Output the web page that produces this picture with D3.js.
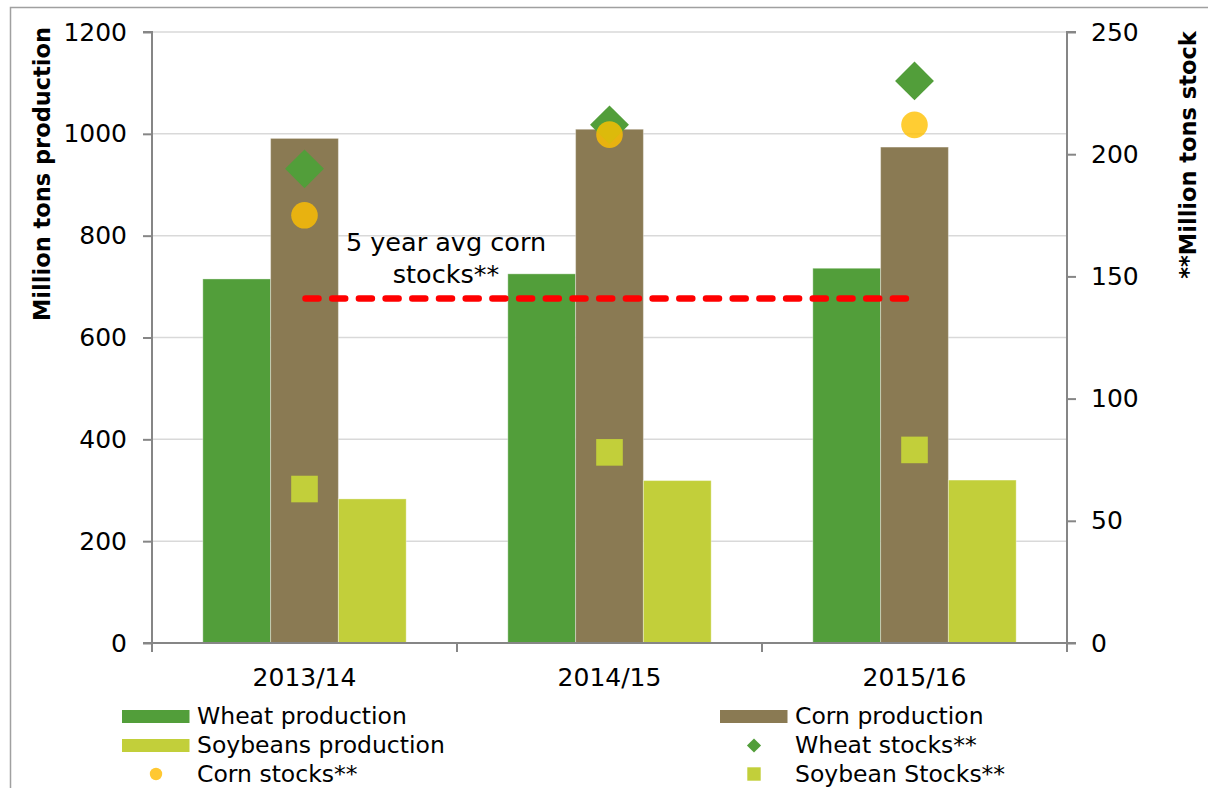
<!DOCTYPE html>
<html>
<head>
<meta charset="utf-8">
<script src="https://cdn.jsdelivr.net/npm/d3@7"></script>
<style>
  html, body { margin: 0; padding: 0; background: #fff; }
  svg { display: block; font-family: "DejaVu Sans", sans-serif; }
</style>
</head>
<body>
<svg id="chart" width="1208" height="788"></svg>
<script>
// ---- data ----
const categories = ["2013/14", "2014/15", "2015/16"];
const wheatProduction = [715, 725, 736];
const cornProduction = [991, 1009, 974];
const soybeansProduction = [283, 319, 320];
const wheatStocks = [194, 212, 230];
const cornStocks = [175, 208, 212];
const soybeanStocks = [63, 78, 79];
const avgCornStocks = 141;
const leftTicks = [0, 200, 400, 600, 800, 1000, 1200];
const rightTicks = [0, 50, 100, 150, 200, 250];

const colors = {
  wheat: "#529E3A",
  corn: "#8A7A53",
  soy: "#C2CF3A",
  cornStock: "#FFC000",
  avg: "#FF0000"
};

const svg = d3.select("#chart");
const m = { left: 152, right: 1067, top: 32, bottom: 643 };

// outer frame
svg.append("rect").attr("x", 10.5).attr("y", 7.5).attr("width", 1220).attr("height", 800)
  .attr("fill", "none").attr("stroke", "#A0A0A0").attr("stroke-width", 1.5);

const x = d3.scaleBand().domain(categories).range([m.left, m.right]).paddingInner(0).paddingOuter(0);
const series = ["wheat", "corn", "soy"];
const xs = d3.scaleBand().domain(series).range([0, x.bandwidth()]).paddingInner(0).paddingOuter(0.75);
const yL = d3.scaleLinear().domain([0, 1200]).range([m.bottom, m.top]);
const yR = d3.scaleLinear().domain([0, 250]).range([m.bottom, m.top]);

// gridlines
svg.append("g").selectAll("line").data(leftTicks.filter(d => d > 0)).join("line")
  .attr("x1", m.left).attr("x2", m.right)
  .attr("y1", d => yL(d)).attr("y2", d => yL(d))
  .attr("stroke", "#D9D9D9").attr("stroke-width", 1.5);

// bars
const barData = [
  { key: "wheat", values: wheatProduction, color: colors.wheat },
  { key: "corn", values: cornProduction, color: colors.corn },
  { key: "soy", values: soybeansProduction, color: colors.soy }
];
barData.forEach(s => {
  svg.append("g").selectAll("rect").data(s.values).join("rect")
    .attr("x", (d, i) => x(categories[i]) + xs(s.key))
    .attr("width", xs.bandwidth())
    .attr("y", d => yL(d))
    .attr("height", d => yL(0) - yL(d))
    .attr("fill", s.color)
    .attr("stroke", "rgba(255,255,255,0.35)").attr("stroke-width", 1);
});

// axes
const axisColor = "#868686";
const gL = svg.append("g").attr("transform", `translate(${m.left},0)`)
  .call(d3.axisLeft(yL).tickValues(leftTicks).tickSize(9).tickPadding(16).tickFormat(d3.format("d")));
const gR = svg.append("g").attr("transform", `translate(${m.right},0)`)
  .call(d3.axisRight(yR).tickValues(rightTicks).tickSize(9).tickPadding(15).tickFormat(d3.format("d")));
const gX = svg.append("g").attr("transform", `translate(0,${m.bottom})`)
  .call(d3.axisBottom(x).tickSize(0).tickPadding(34));
[gL, gR, gX].forEach(g => {
  g.select(".domain").attr("stroke", axisColor).attr("stroke-width", 2);
  g.selectAll(".tick line").attr("stroke", axisColor).attr("stroke-width", 2);
  g.selectAll(".tick text").attr("fill", "#000").attr("font-size", 25).attr("font-family", "DejaVu Sans");
});
gL.select(".domain").attr("d", `M-9,${m.top}H0V${m.bottom}H-9`);
gR.select(".domain").attr("d", `M9,${m.top}H0V${m.bottom}H9`);
gX.select(".domain").attr("d", `M${m.left - 9},0H${m.right}`);
gX.selectAll(".tick text").attr("dy", 0).attr("y", 43);
// category boundary ticks
const bounds = categories.map(c => x(c)).concat([x(categories[categories.length - 1]) + x.bandwidth()]);
gX.append("g").selectAll("line").data(bounds).join("line")
  .attr("x1", d => d).attr("x2", d => d).attr("y1", 0).attr("y2", 9)
  .attr("stroke", axisColor).attr("stroke-width", 2);

// average line (on top of bars)
const cornCenter = i => x(categories[i]) + xs("corn") + xs.bandwidth() / 2;
svg.append("line")
  .attr("x1", cornCenter(0) + 1).attr("x2", cornCenter(categories.length - 1) - 3)
  .attr("y1", yR(avgCornStocks)).attr("y2", yR(avgCornStocks))
  .attr("stroke", colors.avg).attr("stroke-width", 6.5)
  .attr("stroke-linecap", "round").attr("stroke-dasharray", "13 13.7");

const lbl = svg.append("text").attr("text-anchor", "middle").attr("font-size", 25.5).attr("fill", "#000");
lbl.append("tspan").attr("x", 446).attr("y", 251).text("5 year avg corn");
lbl.append("tspan").attr("x", 446).attr("y", 283).text("stocks**");

// markers
const diamond = d3.symbol().type(d3.symbolSquare).size(27.5 * 27.5);
svg.append("g").selectAll("path").data(wheatStocks).join("path")
  .attr("d", diamond)
  .attr("transform", (d, i) => `translate(${cornCenter(i)},${yR(d)}) rotate(45)`)
  .attr("fill", colors.wheat);
svg.append("g").selectAll("circle").data(cornStocks).join("circle")
  .attr("cx", (d, i) => cornCenter(i)).attr("cy", d => yR(d)).attr("r", 13.3)
  .attr("fill", colors.cornStock).attr("fill-opacity", 0.8);
svg.append("g").selectAll("rect").data(soybeanStocks).join("rect")
  .attr("x", (d, i) => cornCenter(i) - 13.3).attr("y", d => yR(d) - 13.3)
  .attr("width", 26.6).attr("height", 26.6)
  .attr("fill", colors.soy);

// axis titles
svg.append("text").attr("transform", `translate(50,174) rotate(-90)`)
  .attr("text-anchor", "middle").attr("font-size", 22.5).attr("font-weight", "bold")
  .text("Million tons production");
svg.append("text").attr("transform", `translate(1196,155) rotate(-90)`)
  .attr("text-anchor", "middle").attr("font-size", 22.5).attr("font-weight", "bold")
  .text("**Million tons stock");

// legend
const legendItems = [
  { label: "Wheat production", type: "bar", color: colors.wheat, col: 0, row: 0 },
  { label: "Corn production", type: "bar", color: colors.corn, col: 1, row: 0 },
  { label: "Soybeans production", type: "bar", color: colors.soy, col: 0, row: 1 },
  { label: "Wheat stocks**", type: "diamond", color: colors.wheat, col: 1, row: 1 },
  { label: "Corn stocks**", type: "circle", color: "#FFC832", col: 0, row: 2 },
  { label: "Soybean Stocks**", type: "square", color: colors.soy, col: 1, row: 2 }
];
const colX = [122, 720];
const rowY = [716.5, 745.5, 774];
const lg = svg.append("g");
legendItems.forEach(it => {
  const x0 = colX[it.col], cy = rowY[it.row];
  const cx = x0 + 34;
  if (it.type === "bar") {
    lg.append("rect").attr("x", x0).attr("y", cy - 6.5).attr("width", 67.5).attr("height", 13).attr("fill", it.color);
  } else if (it.type === "diamond") {
    lg.append("path").attr("d", d3.symbol().type(d3.symbolSquare).size(10 * 10))
      .attr("transform", `translate(${cx},${cy}) rotate(45)`).attr("fill", it.color);
  } else if (it.type === "circle") {
    lg.append("circle").attr("cx", cx).attr("cy", cy).attr("r", 6.2).attr("fill", it.color);
  } else {
    lg.append("rect").attr("x", cx - 6.7).attr("y", cy - 6.7).attr("width", 13.4).attr("height", 13.4).attr("fill", it.color);
  }
  lg.append("text").attr("x", x0 + 75).attr("y", cy + 7.5).attr("font-size", 23.5).attr("fill", "#000").text(it.label);
});
</script>
</body>
</html>
